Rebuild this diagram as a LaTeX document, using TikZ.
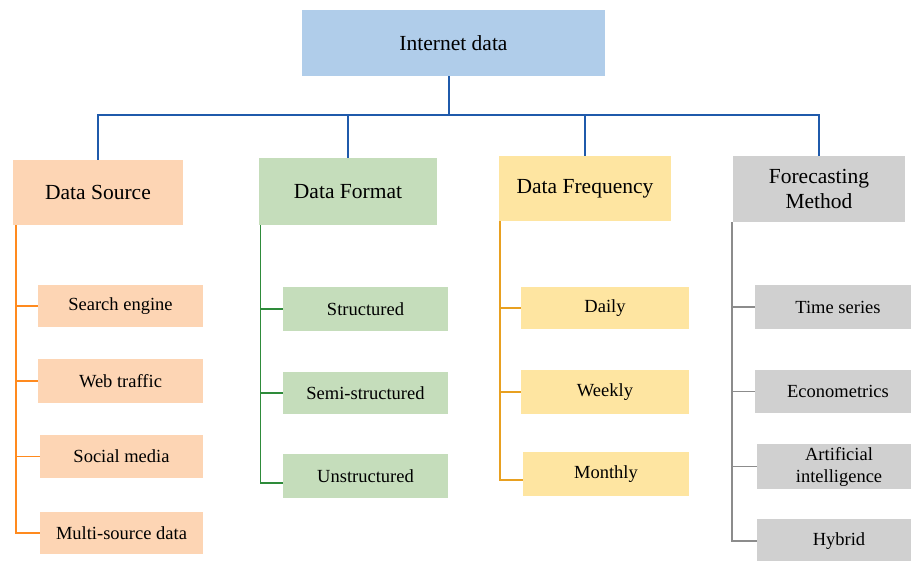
\documentclass[tikz,border=0pt]{standalone}
\usepackage{fontspec}
\setmainfont{Liberation Serif}
\definecolor{cblue}{HTML}{B0CDEA}
\definecolor{cpeach}{HTML}{FDD5B4}
\definecolor{cgreen}{HTML}{C5DDBB}
\definecolor{cyellow}{HTML}{FEE5A1}
\definecolor{cgray}{HTML}{D0D0D0}
\definecolor{lblue}{HTML}{1F5AAB}
\definecolor{lorange}{HTML}{FF8A1E}
\definecolor{lgreen}{HTML}{2E8B3A}
\definecolor{lyellow}{HTML}{E8A020}
\definecolor{lgray}{HTML}{8C8C8C}
\begin{document}
\begin{tikzpicture}[x=1pt,y=-1pt,
  box/.style={rectangle,inner sep=0pt,align=center},
  cat/.style={box,font=\fontsize{21.5}{25}\selectfont},
  leaf/.style={box,font=\fontsize{18.5}{22}\selectfont},
  bus/.style={draw=lblue,line width=1.8pt},
  conn/.style={line width=1.6pt}]
\useasboundingbox (0,0) rectangle (911,560);
\clip (0,0) rectangle (911,560);
% root
\node[cat,fill=cblue,minimum width=303pt,minimum height=66pt] (root) at (453.5,43) {Internet data};
% categories
\node[cat,fill=cpeach,minimum width=170pt,minimum height=65pt] (ds) at (98,192.5) {Data Source};
\node[cat,fill=cgreen,minimum width=178pt,minimum height=67pt] (df) at (348,191.5) {Data Format};
\node[cat,fill=cyellow,minimum width=172pt,minimum height=65pt] (dq) at (585,188.5) {Data Frequency};
\node[cat,fill=cgray,minimum width=172pt,minimum height=66pt] (fm) at (819,189) {Forecasting\\Method};
% bus
\coordinate (bus) at (449,115);
\draw[bus] (root.south -| bus) -- (bus);
\draw[bus] (bus) -| (ds.north);
\draw[bus] (bus) -| (df.north);
\draw[bus] (bus) -| (dq.north);
\draw[bus] (bus) -| (fm.north);
% Data Source children
\node[leaf,fill=cpeach,minimum width=165pt,minimum height=42pt] (se) at (120.5,306) {Search engine};
\node[leaf,fill=cpeach,minimum width=165pt,minimum height=44pt] (wt) at (120.5,381) {Web traffic};
\node[leaf,fill=cpeach,minimum width=163pt,minimum height=43pt] (sm) at (121.5,456.5) {Social media};
\node[leaf,fill=cpeach,minimum width=163pt,minimum height=42pt] (ms) at (121.5,533) {Multi-source data};
\foreach \c in {se,wt,sm,ms}
  \draw[conn,draw=lorange] ([xshift=3pt]ds.south west) |- (\c.west);
% Data Format children
\node[leaf,fill=cgreen,minimum width=165pt,minimum height=44pt] (st) at (365.5,309) {Structured};
\node[leaf,fill=cgreen,minimum width=165pt,minimum height=42pt] (ss) at (365.5,393) {Semi-structured};
\node[leaf,fill=cgreen,minimum width=165pt,minimum height=44pt] (us) at (365.5,476) {Unstructured};
\draw[conn,draw=lgreen] ([xshift=1.5pt]df.south west) |- (st.west);
\draw[conn,draw=lgreen] ([xshift=1.5pt]df.south west) |- (ss.west);
\draw[conn,draw=lgreen] ([xshift=1.5pt]df.south west) |- ([yshift=-7pt]us.west);
% Data Frequency children
\node[leaf,fill=cyellow,minimum width=168pt,minimum height=42pt] (da) at (605,308) {Daily};
\node[leaf,fill=cyellow,minimum width=168pt,minimum height=44pt] (we) at (605,392) {Weekly};
\node[leaf,fill=cyellow,minimum width=166pt,minimum height=44pt] (mo) at (606,474) {Monthly};
\draw[conn,draw=lyellow] ([xshift=1pt]dq.south west) |- (da.west);
\draw[conn,draw=lyellow] ([xshift=1pt]dq.south west) |- (we.west);
\draw[conn,draw=lyellow] ([xshift=1pt]dq.south west) |- ([yshift=-6pt]mo.west);
% Forecasting children
\node[leaf,fill=cgray,minimum width=166pt,minimum height=44pt] (ts) at (838,307) {Time series};
\node[leaf,fill=cgray,minimum width=166pt,minimum height=43pt] (ec) at (838,391.5) {Econometrics};
\node[leaf,fill=cgray,minimum width=164pt,minimum height=45pt] (ai) at (839,466.5) {Artificial\\intelligence};
\node[leaf,fill=cgray,minimum width=164pt,minimum height=44pt] (hy) at (839,541) {Hybrid};
\foreach \c in {ts,ec,ai,hy}
  \draw[conn,draw=lgray] ([xshift=-1pt]fm.south west) |- (\c.west);
\end{tikzpicture}
\end{document}
